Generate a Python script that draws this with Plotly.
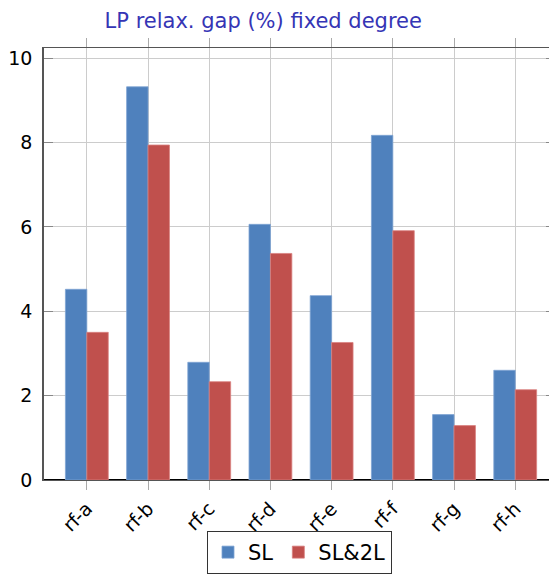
import plotly.graph_objects as go

categories = ["rf-a", "rf-b", "rf-c", "rf-d", "rf-e", "rf-f", "rf-g", "rf-h"]
sl_values = [4.52, 9.32, 2.79, 6.06, 4.37, 8.17, 1.55, 2.60]
sl2l_values = [3.50, 7.94, 2.33, 5.37, 3.26, 5.91, 1.29, 2.14]
y_ticks = [0, 2, 4, 6, 8, 10]

font_family = "DejaVu Sans"

fig = go.Figure()
fig.add_trace(go.Bar(x=categories, y=sl_values, name="SL",
                     marker=dict(color="#4f81bd", line=dict(color="#7ea3d3", width=0.8))))
fig.add_trace(go.Bar(x=categories, y=sl2l_values, name="SL&2L",
                     marker=dict(color="#c0504d", line=dict(color="#d98280", width=0.8))))

# page body has an 8px margin, so the figure is sized/offset to compensate
fig.update_layout(
    width=549, height=566,
    margin=dict(l=34, r=0, t=40, b=94),
    paper_bgcolor="white", plot_bgcolor="white",
    barmode="group", bargap=0.3, bargroupgap=0,
    title=dict(text="LP relax. gap (%) fixed degree", x=0.465, xanchor="center",
               y=0.977, yanchor="middle",
               font=dict(family=font_family, size=21, color="#3535b5")),
    font=dict(family=font_family, size=19, color="black"),
    showlegend=True,
    legend=dict(orientation="h", x=0.5, xanchor="center", y=-0.118, yanchor="top",
                bordercolor="#333333", borderwidth=1, bgcolor="white",
                font=dict(family=font_family, size=21), itemwidth=30),
)

fig.update_xaxes(
    range=[-0.7, 7.65],
    showgrid=True, gridcolor="#cccccc", gridwidth=1,
    showline=True, linecolor="#555555", linewidth=1.2, mirror="ticks",
    ticks="outside", ticklen=9, tickcolor="#aaaaaa", tickwidth=1.2,
    tickangle=-45, tickfont=dict(size=19),
)
fig.update_yaxes(
    range=[0, 10.24], tickvals=y_ticks,
    showgrid=True, gridcolor="#cccccc", gridwidth=1,
    zeroline=True, zerolinecolor="black", zerolinewidth=1.5,
    showline=True, linecolor="#555555", linewidth=1.5, mirror="ticks",
    ticks="inside", ticklen=9, tickcolor="#888888", tickwidth=1.2,
    tickfont=dict(size=19), ticklabelstandoff=6,
)

fig.write_html("out.html")
